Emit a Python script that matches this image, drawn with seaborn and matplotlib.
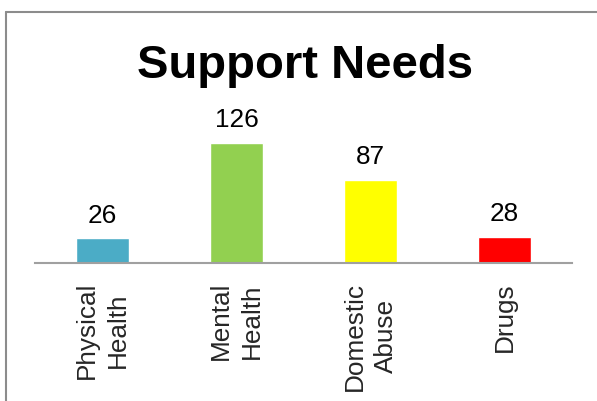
import numpy as np
import pandas as pd
import matplotlib.pyplot as plt
from matplotlib.lines import Line2D
import seaborn as sns

# data
categories = ['Physical\nHealth', 'Mental\nHealth', 'Domestic\nAbuse', 'Drugs']
values = [26, 126, 87, 28]
bar_colors = ['#4BACC6', '#92D050', '#FFFF00', '#FF0000']
title = 'Support Needs'

sns.set_theme(style='white')
plt.rcParams['font.family'] = ['Liberation Sans', 'DejaVu Sans']

W, H = 597, 402
fig = plt.figure(figsize=(W / 100, H / 100), dpi=100)

# axes placed in pixel terms of the reference
left, right, bottom, top = 35.3, 571.7, 264.3, 130.6
ax = fig.add_axes([left / W, 1 - bottom / H, (right - left) / W, (bottom - top) / H])

df = pd.DataFrame({'category': categories, 'value': values})
sns.barplot(data=df, x='category', y='value', hue='category',
            palette=bar_colors, legend=False, width=0.4,
            saturation=1, ax=ax)

ax.set_xlim(-0.5, len(categories) - 0.5)
ax.set_ylim(0, 140)
ax.set_xlabel('')
ax.set_ylabel('')
ax.set_yticks([])

for s in ['top', 'left', 'right']:
    ax.spines[s].set_visible(False)
ax.spines['bottom'].set_color('#A0A0A0')
ax.spines['bottom'].set_linewidth(1.5)

ax.tick_params(axis='x', length=0, pad=12.7)
ax.set_xticks(range(len(categories)))
ax.set_xticklabels(categories, rotation=90, ha='center', va='top',
                   multialignment='center', fontsize=18.8)
for lbl in ax.get_xticklabels():
    lbl.set_linespacing(1.35)

# value labels above bars
for i, v in enumerate(values):
    ax.annotate(str(v), (i, v), xytext=(0, 12.2), textcoords='offset points',
                ha='center', va='baseline', fontsize=18.8, color='black')

fig.text(305 / W, 1 - 78 / H, title, ha='center', va='baseline',
         fontsize=34, fontweight='bold', color='black')

# chart-area border (only top and left visible in the reference)
bx, by = 6 / W, 1 - 13 / H
fig.add_artist(Line2D([bx, bx], [0, by], transform=fig.transFigure,
                      color='#8C8C8C', linewidth=1.5))
fig.add_artist(Line2D([bx, 1], [by, by], transform=fig.transFigure,
                      color='#8C8C8C', linewidth=1.5))

fig.savefig('out.png', dpi=100)
